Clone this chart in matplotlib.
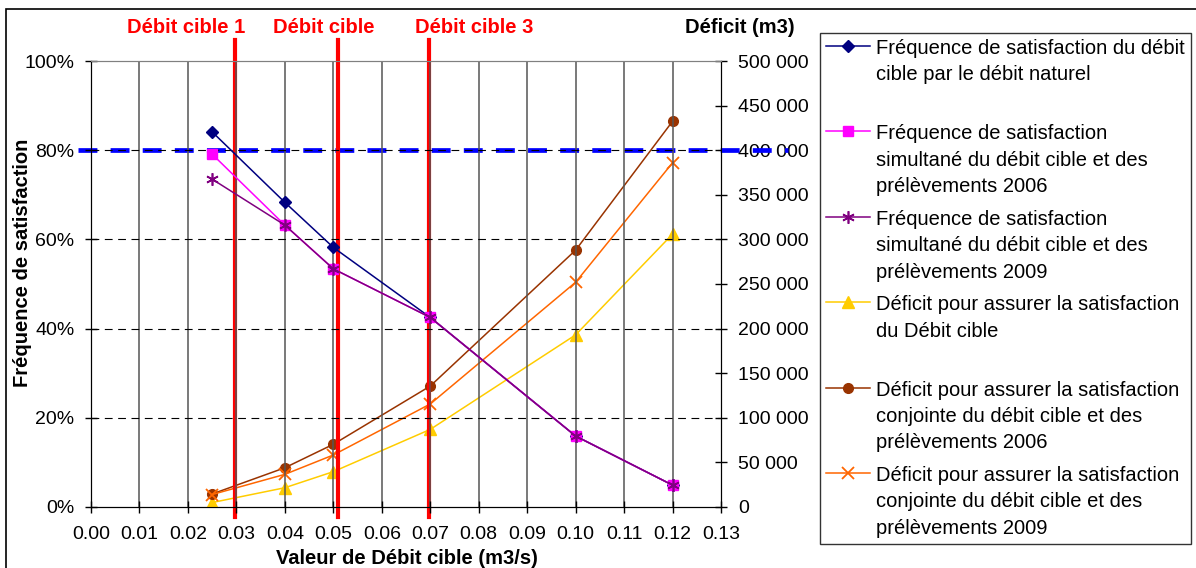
import matplotlib
matplotlib.use("Agg")
import matplotlib.pyplot as plt
from matplotlib.patches import Rectangle
from matplotlib.ticker import FuncFormatter, MultipleLocator

plt.rcParams['font.family'] = ['Liberation Sans', 'DejaVu Sans']

# data
debit = [0.025, 0.04, 0.05, 0.07, 0.10, 0.12]  # m3/s
freq_naturel = [0.841, 0.683, 0.582, 0.425, 0.159, 0.049]
freq_2006 = [0.791, 0.632, 0.534, 0.425, 0.159, 0.049]
freq_2009 = [0.735, 0.632, 0.534, 0.425, 0.159, 0.049]
deficit_cible = [5000, 21600, 39600, 87000, 193000, 306000]
deficit_2006 = [14600, 44000, 70300, 135600, 288000, 432500]
deficit_2009 = [14000, 36600, 58300, 115500, 252000, 386000]

seuil_freq = 0.80
debits_cibles = [0.0297, 0.0509, 0.0697]
noms_cibles = ['Débit cible 1', 'Débit cible', 'Débit cible 3']
pos_noms = [0.151, 0.370, 0.608]  # x of the red labels, axes fraction

labels = [
    'Fréquence de satisfaction du débit\ncible par le débit naturel\n',
    'Fréquence de satisfaction\nsimultané du débit cible et des\nprélèvements 2006',
    'Fréquence de satisfaction\nsimultané du débit cible et des\nprélèvements 2009',
    'Déficit pour assurer la satisfaction\ndu Débit cible\n',
    'Déficit pour assurer la satisfaction\nconjointe du débit cible et des\nprélèvements 2006',
    'Déficit pour assurer la satisfaction\nconjointe du débit cible et des\nprélèvements 2009',
]

fs = 14  # tick labels
fs_b = 14.5  # bold labels / legend

fig = plt.figure(figsize=(11.96, 5.68), dpi=100)
ax = fig.add_axes([0.0761, 0.1074, 0.5268, 0.7852])
ax2 = ax.twinx()

# grid
for xv in [i / 100 for i in range(1, 13)]:
    ax.axvline(xv, color='#555555', lw=1.1, zorder=1)
for yv in [0.2, 0.4, 0.6, 0.8]:
    ax.axhline(yv, color='black', lw=0.8, ls=(0, (7, 5)), zorder=1)

# frequency series (left axis)
h1, = ax.plot(debit, freq_naturel, color='#000080', marker='D', ms=6, lw=1.1, zorder=4)
h2, = ax.plot(debit, freq_2006, color='#FF00FF', marker='s', ms=7, lw=1.1, zorder=4)
h3, = ax.plot(debit, freq_2009, color='#800080', marker=(6, 2, 0), ms=9, mew=1.2, lw=1.1, zorder=5)

# deficit series (right axis)
h4, = ax2.plot(debit, deficit_cible, color='#FFCC00', marker='^', ms=8, lw=1.1, zorder=4)
h5, = ax2.plot(debit, deficit_2006, color='#993300', marker='o', ms=7, lw=1.1, zorder=4)
h6, = ax2.plot(debit, deficit_2009, color='#FF6600', marker='x', ms=9, mew=1.3, lw=1.1, zorder=4)

# 80% threshold, reaches past both axes
ax2.plot([-0.0027, 0.1438], [seuil_freq * 500000] * 2, color='#0000FF', lw=3.4,
         dashes=(4, 2.8), clip_on=False, zorder=6)

# target flow lines
trans = ax2.get_xaxis_transform()
for xv, nom, px in zip(debits_cibles, noms_cibles, pos_noms):
    ax2.plot([xv, xv], [-0.022, 1.047], color='#FF0000', lw=3, transform=trans,
             clip_on=False, zorder=7)
    ax.text(px, 1.076, nom, transform=ax.transAxes, color='#FF0000', fontsize=fs_b,
            fontweight='bold', ha='center', va='center')

ax.text(1.030, 1.076, 'Déficit (m3)', transform=ax.transAxes, fontsize=fs_b,
        fontweight='bold', ha='center', va='center')

ax.set_xlim(0, 0.13)
ax.set_ylim(0, 1)
ax2.set_ylim(0, 500000)
ax.xaxis.set_major_locator(MultipleLocator(0.01))
ax.xaxis.set_major_formatter(FuncFormatter(lambda v, p: f'{v:.2f}'))
ax.yaxis.set_major_locator(MultipleLocator(0.2))
ax.yaxis.set_major_formatter(FuncFormatter(lambda v, p: f'{v * 100:.0f}%'))
ax2.yaxis.set_major_locator(MultipleLocator(50000))
ax2.yaxis.set_major_formatter(FuncFormatter(lambda v, p: f'{int(v):,}'.replace(',', ' ')))

ax.tick_params(axis='both', direction='inout', length=8, width=1, labelsize=fs)
ax.tick_params(axis='x', pad=10)
ax.tick_params(axis='y', pad=8)
ax2.tick_params(axis='y', direction='inout', length=9, width=1, labelsize=fs, pad=8)

for a in (ax, ax2):
    a.spines['top'].set_color('#808080')
    a.spines['left'].set_color('black')
    a.spines['right'].set_color('black')
    a.spines['bottom'].set_color('black')

ax.set_xlabel('Valeur de Débit cible (m3/s)', fontsize=fs_b, fontweight='bold')
ax.xaxis.set_label_coords(0.501, -0.094)
ax.set_ylabel('Fréquence de satisfaction', fontsize=fs_b, fontweight='bold')
ax.yaxis.set_label_coords(-0.093, 0.547)

ax.set_zorder(ax2.get_zorder() + 1)
ax.patch.set_visible(False)

leg = fig.legend([h1, h2, h3, h4, h5, h6], labels, loc='upper left',
                 bbox_to_anchor=(0.6856, 0.9419, 0.3102, 0.0), mode='expand',
                 fontsize=fs_b, frameon=True, fancybox=False, borderpad=0.3,
                 handlelength=2.2, handletextpad=0.3, labelspacing=0.68,
                 borderaxespad=0)
leg.get_frame().set_edgecolor('black')
leg.get_frame().set_linewidth(1)
for t in leg.get_texts():
    t.set_linespacing(1.49)
# put the markers level with the first line of each label
for col in leg._legend_handle_box.get_children():
    for row in col.get_children():
        row.align = 'top'

# outer chart border
fig.patches.append(Rectangle((6 / 1196, -0.05), 1.2, (1 - 9 / 568) + 0.05,
                             transform=fig.transFigure, fill=False,
                             edgecolor='black', lw=1.2))

fig.savefig('out.png', dpi=100)
